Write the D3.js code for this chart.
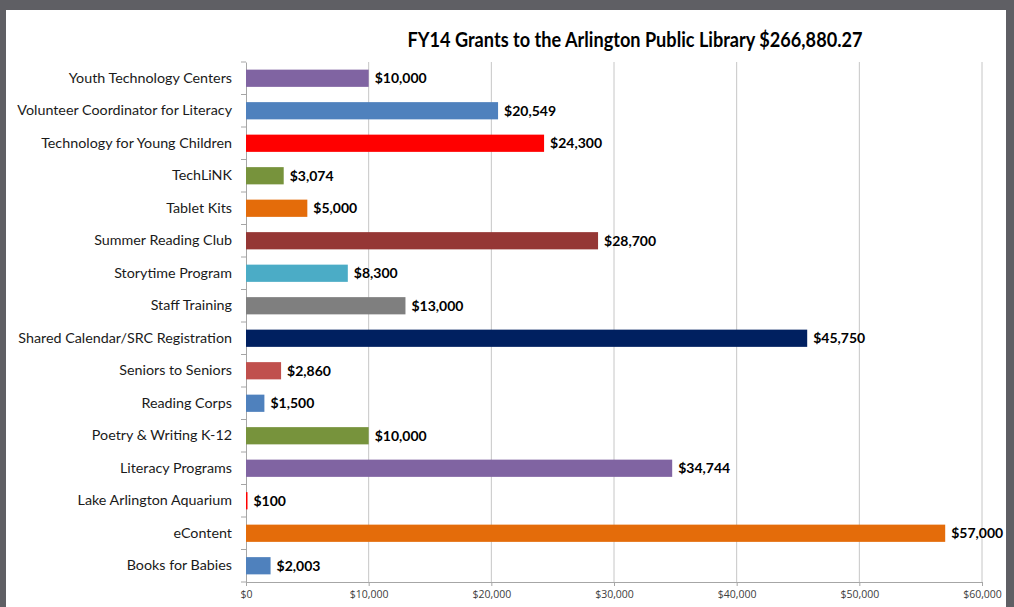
<!DOCTYPE html>
<html>
<head>
<meta charset="utf-8">
<script src="https://cdn.jsdelivr.net/npm/d3@7"></script>
<style>
  html, body { margin: 0; padding: 0; background: #5f5f64; }
  svg { display: block; }
</style>
</head>
<body>
<script>
const categories = [
  "Youth Technology Centers",
  "Volunteer Coordinator for Literacy",
  "Technology for Young Children",
  "TechLiNK",
  "Tablet Kits",
  "Summer Reading Club",
  "Storytime Program",
  "Staff Training",
  "Shared Calendar/SRC Registration",
  "Seniors to Seniors",
  "Reading Corps",
  "Poetry & Writing K-12",
  "Literacy Programs",
  "Lake Arlington Aquarium",
  "eContent",
  "Books for Babies"
];
const amounts = [10000, 20549, 24300, 3074, 5000, 28700, 8300, 13000, 45750, 2860, 1500, 10000, 34744, 100, 57000, 2003];
const barColors = ["#8064a2", "#4f81bd", "#ff0000", "#77933c", "#e46c0a", "#953735", "#4bacc6", "#7f7f7f",
  "#002060", "#c0504d", "#4f81bd", "#77933c", "#8064a2", "#ff0000", "#e46c0a", "#4f81bd"];
const xTicks = [0, 10000, 20000, 30000, 40000, 50000, 60000];
const title = "FY14 Grants to the Arlington Public Library $266,880.27";

const width = 1014, height = 607;
const margin = {top: 62, right: 32, bottom: 25, left: 246};

const svg = d3.select("body").append("svg")
    .attr("width", width)
    .attr("height", height);

// white page area
svg.append("rect")
    .attr("x", 6).attr("y", 10)
    .attr("width", 1000).attr("height", height - 10)
    .attr("fill", "#fff");

const x = d3.scaleLinear()
    .domain([0, 60000])
    .range([margin.left, width - margin.right]);

const y = d3.scaleBand()
    .domain(categories)
    .range([margin.top, height - margin.bottom])
    .paddingInner(0.47)
    .paddingOuter(0.235);

const fmt = d => "$" + d3.format(",")(d);

// gridlines
svg.append("g")
    .selectAll("line")
    .data(xTicks.slice(1))
    .join("line")
    .attr("x1", d => x(d)).attr("x2", d => x(d))
    .attr("y1", margin.top).attr("y2", height - margin.bottom)
    .attr("stroke", "#c6c6c6")
    .attr("stroke-width", 1);

// bottom axis
svg.append("g")
    .attr("transform", `translate(0,${height - margin.bottom})`)
    .call(d3.axisBottom(x).tickValues(xTicks).tickFormat(fmt).tickSize(4).tickSizeOuter(0))
    .call(g => g.select(".domain").attr("stroke", "#a6a6a6"))
    .call(g => g.selectAll(".tick line").attr("stroke", "#a6a6a6"))
    .call(g => g.selectAll(".tick text")
        .attr("fill", "#404040")
        .attr("dy", "0.9em")
        .style("font", "10.5px 'Liberation Sans Narrow', 'Open Sans', sans-serif"));

// left axis with category labels
svg.append("g")
    .attr("transform", `translate(${margin.left},0)`)
    .call(d3.axisLeft(y).tickSize(0).tickPadding(14))
    .call(g => g.select(".domain").attr("stroke", "#a6a6a6"))
    .call(g => g.selectAll(".tick text")
        .attr("fill", "#1a1a1a")
        .style("font", "14.3px Lato, 'Open Sans', sans-serif"));

// tick marks at band boundaries
const bounds = d3.range(categories.length + 1).map(i => margin.top + i * (height - margin.bottom - margin.top) / categories.length);
svg.append("g")
    .selectAll("line")
    .data(bounds)
    .join("line")
    .attr("x1", margin.left - 5).attr("x2", margin.left)
    .attr("y1", d => d).attr("y2", d => d)
    .attr("stroke", "#a6a6a6");

// bars
svg.append("g")
    .selectAll("rect")
    .data(categories)
    .join("rect")
    .attr("x", x(0))
    .attr("y", d => y(d))
    .attr("width", (d, i) => Math.max(1.5, x(amounts[i]) - x(0)))
    .attr("height", y.bandwidth())
    .attr("fill", (d, i) => barColors[i]);

// value labels
svg.append("g")
    .selectAll("text")
    .data(categories)
    .join("text")
    .attr("x", (d, i) => Math.max(x(amounts[i]), x(0) + 1.5) + 6)
    .attr("y", d => y(d) + y.bandwidth() / 2)
    .attr("dy", "0.36em")
    .attr("fill", "#000")
    .style("font", "bold 14px Lato, 'Open Sans', sans-serif")
    .text((d, i) => fmt(amounts[i]));

// title
svg.append("text")
    .attr("x", 635)
    .attr("y", 40)
    .attr("dy", "0.36em")
    .attr("text-anchor", "middle")
    .attr("fill", "#000")
    .attr("textLength", 455)
    .attr("lengthAdjust", "spacingAndGlyphs")
    .style("font", "bold 20px Lato, 'Open Sans', sans-serif")
    .text(title);
</script>
</body>
</html>
